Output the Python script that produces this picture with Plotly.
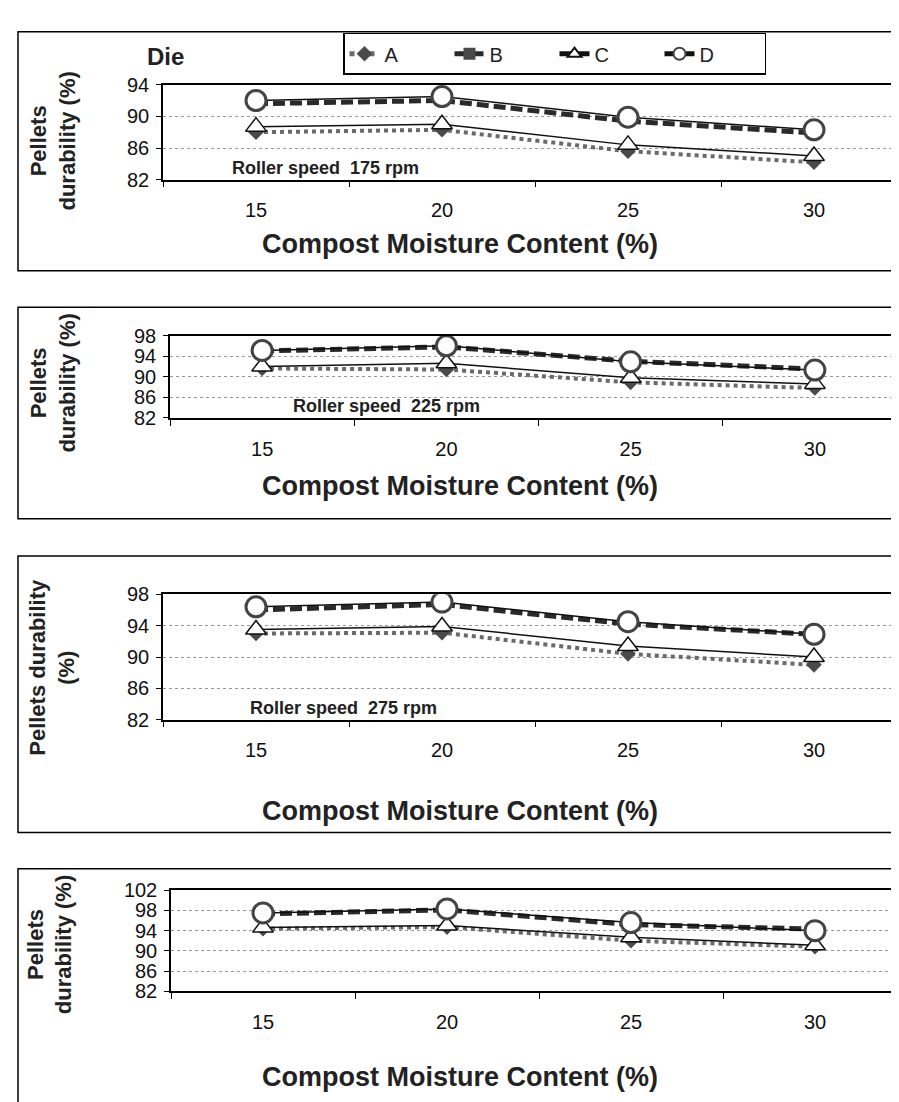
import plotly.graph_objects as go

W, H = 899, 1102

moisture = ["15", "20", "25", "30"]
series_names = ["A", "B", "C", "D"]

# Pellet durability (%) per roller speed, series A-D
rpm175_A = [88.0, 88.3, 85.6, 84.2]
rpm175_B = [91.6, 92.0, 89.4, 87.9]
rpm175_C = [88.7, 89.0, 86.4, 85.0]
rpm175_D = [92.0, 92.5, 89.9, 88.3]

rpm225_A = [91.6, 91.4, 88.9, 87.8]
rpm225_B = [95.0, 95.8, 93.0, 91.5]
rpm225_C = [92.0, 92.6, 89.8, 88.6]
rpm225_D = [95.1, 96.0, 92.9, 91.3]

rpm275_A = [93.0, 93.1, 90.4, 89.0]
rpm275_B = [96.0, 96.7, 94.2, 92.9]
rpm275_C = [93.5, 93.9, 91.4, 90.0]
rpm275_D = [96.4, 97.0, 94.5, 92.9]

rpm325_A = [94.4, 94.7, 92.0, 90.8]
rpm325_B = [97.3, 98.1, 95.2, 94.3]
rpm325_C = [94.6, 95.0, 92.7, 91.1]
rpm325_D = [97.5, 98.3, 95.6, 94.0]

panels = [
    dict(A=rpm175_A, B=rpm175_B, C=rpm175_C, D=rpm175_D, label="Roller speed  175 rpm",
         yr=[82, 94], ypx=(67, 164), xl=155, box=(13, 257), lab=(222, 152), title_y=230,
         ytitle="Pellets<br>durability (%)", ytx=45, yty=125),
    dict(A=rpm225_A, B=rpm225_B, C=rpm225_C, D=rpm225_D, label="Roller speed  225 rpm",
         yr=[82, 98], ypx=(323, 407), xl=162, box=(294, 510), lab=(283, 395), title_y=477,
         ytitle="Pellets<br>durability (%)", ytx=45, yty=372),
    dict(A=rpm275_A, B=rpm275_B, C=rpm275_C, D=rpm275_D, label="Roller speed  275 rpm",
         yr=[82, 98], ypx=(587, 715), xl=155, box=(548, 830), lab=(240, 703), title_y=808,
         ytitle="Pellets durability<br>(%)", ytx=44, yty=662),
    dict(A=rpm325_A, B=rpm325_B, C=rpm325_C, D=rpm325_D, label=None,
         yr=[82, 102], ypx=(889, 992), xl=163, box=(867, 1130), lab=None, title_y=1080,
         ytitle="Pellets<br>durability (%)", ytx=42, yty=945),
]

styles = {
    "A": dict(line=dict(color="#6a6a6a", width=4, dash="dot"),
              marker=dict(symbol="diamond", size=12, color="#4a4a4a")),
    "B": dict(line=dict(color="#2a2a2a", width=5, dash="12px,5px"),
              marker=dict(symbol="square", size=12, color="#4a4a4a")),
    "C": dict(line=dict(color="#111111", width=1.5),
              marker=dict(symbol="triangle-up", size=18, color="white",
                          line=dict(color="#111111", width=1.5))),
    "D": dict(line=dict(color="#111111", width=1.5),
              marker=dict(symbol="circle", size=20, color="white",
                          line=dict(color="#444444", width=3))),
}

fig = go.Figure()
FONT = "Liberation Sans, Arial, sans-serif"
annotations = []
shapes = []

for i, p in enumerate(panels):
    ax = "" if i == 0 else str(i + 1)
    for name in series_names:
        fig.add_trace(go.Scatter(
            x=moisture, y=p[name], name=name, mode="lines+markers",
            xaxis="x" + ax, yaxis="y" + ax, showlegend=(i == 0),
            **styles[name]))
    y0 = 1 - p["ypx"][1] / H
    y1 = 1 - p["ypx"][0] / H
    fig.layout["xaxis" + ax] = dict(
        type="category", range=[-0.5, 3.5], domain=[p["xl"] / W, 1],
        anchor="y" + ax, tickson="boundaries", ticks="outside", ticklen=6,
        tickcolor="black", showline=True, linecolor="black", linewidth=1.5,
        mirror=True, showgrid=False, ticklabelstandoff=12,
        tickfont=dict(family=FONT, size=20, color="#111"))
    fig.layout["yaxis" + ax] = dict(
        range=p["yr"], domain=[y0, y1], anchor="x" + ax, dtick=4, tick0=82,
        ticks="outside", ticklen=5, tickcolor="black", showline=True,
        linecolor="black", linewidth=1.5, showgrid=True, gridcolor="#999999",
        griddash="dot", gridwidth=1, zeroline=False, ticklabelstandoff=3,
        tickfont=dict(family=FONT, size=20, color="#111"))
    shapes.append(dict(type="rect", xref="paper", yref="paper",
                       x0=10 / W, x1=1.02, y0=1 - p["box"][1] / H, y1=1 - p["box"][0] / H,
                       line=dict(color="black", width=1.5), fillcolor="rgba(0,0,0,0)",
                       layer="below"))
    annotations.append(dict(text="<b>Compost Moisture Content (%)</b>", xref="paper", yref="paper",
                            x=452 / W, y=1 - p["title_y"] / H, xanchor="center", yanchor="middle",
                            showarrow=False, font=dict(family=FONT, size=27, color="#222")))
    annotations.append(dict(text="<b>" + p["ytitle"] + "</b>", xref="paper", yref="paper",
                            x=p["ytx"] / W, y=1 - p["yty"] / H, xanchor="center", yanchor="middle",
                            showarrow=False, textangle=-90,
                            font=dict(family=FONT, size=22, color="#222")))
    if p["label"]:
        annotations.append(dict(text="<b>" + p["label"] + "</b>", xref="paper", yref="paper",
                                x=p["lab"][0] / W, y=1 - p["lab"][1] / H, xanchor="left",
                                yanchor="middle", showarrow=False,
                                font=dict(family=FONT, size=18, color="#222")))

annotations.append(dict(text="<b>Die</b>", xref="paper", yref="paper", x=157 / W, y=1 - 38 / H,
                        xanchor="center", yanchor="middle", showarrow=False,
                        font=dict(family=FONT, size=24, color="#222")))

fig.update_layout(
    width=W, height=H, margin=dict(l=0, r=0, t=0, b=0),
    paper_bgcolor="white", plot_bgcolor="white",
    annotations=annotations, shapes=shapes,
    legend=dict(orientation="h", x=335 / W, y=1 - 14 / H, xanchor="left", yanchor="top",
                bordercolor="black", borderwidth=1.5, bgcolor="white",
                font=dict(family=FONT, size=20, color="#222"),
                entrywidth=60, entrywidthmode="pixels", itemsizing="constant",
                tracegroupgap=0),
)

fig.write_html("out.html")
